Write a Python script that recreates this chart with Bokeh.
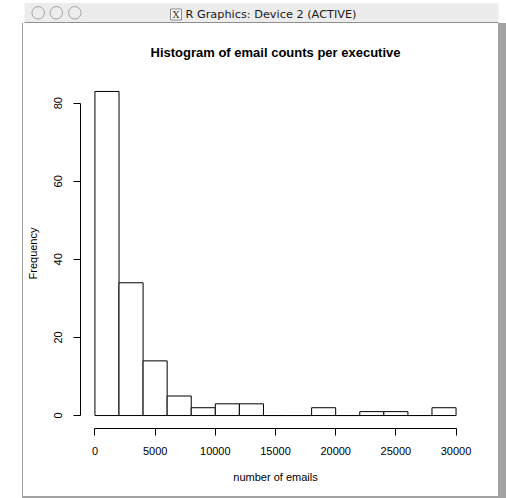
from bokeh.plotting import figure
from bokeh.models import Range1d, FixedTicker, Spacer
from bokeh.layouts import column, row
from bokeh.core.properties import value
from bokeh.embed import file_html
from bokeh.resources import INLINE

# ---- data ----
bin_edges = [0, 2000, 4000, 6000, 8000, 10000, 12000, 14000, 16000,
             18000, 20000, 22000, 24000, 26000, 28000, 30000]
counts = [83, 34, 14, 5, 2, 3, 3, 0, 0, 2, 0, 1, 1, 0, 2]
x_ticks = [0, 5000, 10000, 15000, 20000, 25000, 30000]
y_ticks = [0, 20, 40, 60, 80]
title_text = "Histogram of email counts per executive"
x_label = "number of emails"
y_label = "Frequency"
window_title = "R Graphics: Device 2 (ACTIVE)"

FONT = "Liberation Sans"


def chrome_fig(w, h, bg="white"):
    f = figure(width=w, height=h, output_backend="svg", toolbar_location=None,
               x_range=Range1d(0, w), y_range=Range1d(h, 0),
               x_axis_location=None, y_axis_location=None,
               min_border=0, title=None)
    f.xgrid.visible = False
    f.ygrid.visible = False
    f.outline_line_color = None
    f.background_fill_color = bg
    f.border_fill_color = bg
    return f


def strip(w, h, color):
    return Spacer(width=w, height=h, styles={"background-color": color})


# ---- window title bar ----
top = chrome_fig(506, 23)
top.quad(left=[24], right=[498], top=[2.5], bottom=[21.5],
         fill_color="#ececec", line_color=None)
top.quad(left=[24], right=[498], top=[21.5], bottom=[22.5],
         fill_color="#8f8f8f", line_color=None)
top.scatter(x=[37.7, 55.8, 74.3], y=[12.3, 12.3, 12.3], size=12.5,
            fill_color="#ededed", line_color="#a3a3a3", line_width=1)
top.quad(left=[170], right=[181], top=[8.5], bottom=[19.5],
         fill_color="#f8f8f8", line_color="#8a8a8a", line_width=1)
top.text(x=[175.5], y=[14.2], text=["X"], text_font=value("DejaVu Serif"),
         text_font_size="10px", text_align="center", text_baseline="middle",
         text_color="#333333")
top.text(x=[270.5], y=[14], text=[window_title], text_font=value("DejaVu Sans"),
         text_font_size="11.3px", text_align="center", text_baseline="middle",
         text_color="#1a1a1a")

# ---- window side / bottom borders ----
left_pad = strip(22, 473, "white")
left_line = strip(1, 473, "#a0a0a0")
right_bar = strip(8, 473, "#a3a3a3")
bottom_pad = strip(22, 2, "white")
bottom_line = strip(484, 2, "#a3a3a3")

# ---- histogram ----
xmin, xmax = bin_edges[0], bin_edges[-1]
xpad = 0.04 * (xmax - xmin)
ymax = max(counts)
ypad = 0.04 * ymax

p = figure(width=475, height=473, output_backend="svg", toolbar_location=None,
           x_range=Range1d(xmin - xpad, xmax + xpad),
           y_range=Range1d(-ypad, ymax + ypad),
           min_border_left=57, min_border_right=28,
           min_border_top=55, min_border_bottom=68)
p.background_fill_color = "white"
p.border_fill_color = "white"
p.outline_line_color = None
p.xgrid.visible = False
p.ygrid.visible = False

p.title.text = title_text
p.title.align = "center"
p.title.text_font = FONT
p.title.text_font_size = "13px"
p.title.text_font_style = "bold"
p.title.text_color = "black"
p.title.standoff = 38

p.quad(left=bin_edges[:-1], right=bin_edges[1:], bottom=0, top=counts,
       fill_color="white", line_color="black", line_width=1)

for ax, ticks, lab in ((p.xaxis, x_ticks, x_label), (p.yaxis, y_ticks, y_label)):
    ax.ticker = FixedTicker(ticks=ticks)
    ax.bounds = (ticks[0], ticks[-1])
    ax.axis_label = lab
    ax.axis_line_color = "black"
    ax.major_tick_line_color = "black"
    ax.minor_tick_line_color = None
    ax.major_tick_out = 7
    ax.major_tick_in = 0
    ax.major_label_text_font = FONT
    ax.major_label_text_font_size = "11px"
    ax.major_label_text_color = "black"
    ax.axis_label_text_font = FONT
    ax.axis_label_text_font_size = "11px"
    ax.axis_label_text_font_style = "normal"
    ax.axis_label_text_color = "black"

p.xaxis.major_label_standoff = 11
p.xaxis.axis_label_standoff = 13
p.yaxis.major_label_orientation = "vertical"
p.yaxis.major_label_standoff = 11
p.yaxis.axis_label_standoff = 13

layout = column(top,
                row(left_pad, left_line, p, right_bar, spacing=0),
                row(bottom_pad, bottom_line, spacing=0),
                spacing=0)

open("out.html", "w").write(file_html(layout, INLINE))
